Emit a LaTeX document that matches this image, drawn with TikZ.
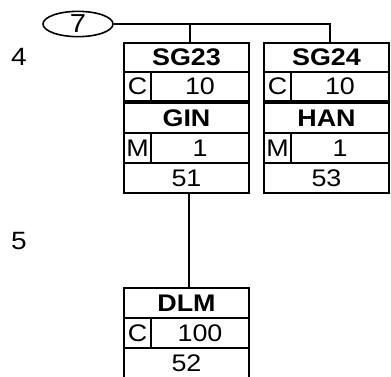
\documentclass[tikz,border=0pt]{standalone}
\usepackage{fontspec}
\setmainfont{Liberation Sans}[FakeStretch=1.12]
\usetikzlibrary{shapes.geometric,positioning}

\begin{document}
\begin{tikzpicture}[x=1pt, y=-1pt,
    row/.style={draw, line width=1.9pt, outer sep=0pt, minimum width=125pt, minimum height=#1, inner sep=0pt, font=\fontsize{24}{24}\selectfont},
    row/.default=29pt,
    head/.style={row=#1, font=\fontsize{24}{24}\selectfont\bfseries},
    head/.default=29pt,
    tag/.style={row=#1, minimum width=27pt},
    tag/.default=29pt,
    val/.style={row=#1, minimum width=98pt},
    val/.default=29pt,
    level/.style={font=\fontsize{25}{25}\selectfont},
    link/.style={line width=1.9pt}
]
    \useasboundingbox (0,0) rectangle (391,376);

    % level numbers
    \node[level] (lvl4) at (19,57) {4};
    \node[level] (lvl5) at (19,241) {5};

    \node[ellipse, draw, line width=1.6pt, minimum width=70pt, minimum height=20pt, inner sep=0pt, font=\fontsize{26}{26}\selectfont] (seven) at (78,24) {7};

    % left column
    \node[head, anchor=north west] (sg23) at (124,43) {SG23};
    \node[tag, below right=0pt and 0pt of sg23.south west] (c23) {C};
    \node[val, right=0pt of c23] (v23) {10};
    \node[head=30pt, anchor=north west] (gin) at (124,103) {GIN};
    \node[tag=30pt, below right=0pt and 0pt of gin.south west] (mgin) {M};
    \node[val=30pt, right=0pt of mgin] (vgin) {1};
    \node[row=30pt, below right=0pt and 0pt of mgin.south west] (n51) {51};

    % right column
    \node[head, anchor=north west] (sg24) at (264,43) {SG24};
    \node[tag, below right=0pt and 0pt of sg24.south west] (c24) {C};
    \node[val, right=0pt of c24] (v24) {10};
    \node[head=30pt, anchor=north west] (han) at (264,103) {HAN};
    \node[tag=30pt, below right=0pt and 0pt of han.south west] (mhan) {M};
    \node[val=30pt, right=0pt of mhan] (vhan) {1};
    \node[row=30pt, below right=0pt and 0pt of mhan.south west] (n53) {53};

    % lower level
    \node[head=30pt, anchor=north west] (dlm) at (124,288) {DLM};
    \node[tag=30pt, below right=0pt and 0pt of dlm.south west] (cdlm) {C};
    \node[val=30pt, right=0pt of cdlm] (vdlm) {100};
    \node[row=30pt, below right=0pt and 0pt of cdlm.south west] (n52) {52};

    % links
    \draw[link] (seven.east) -| ([xshift=3.5pt]sg24.north);
    \draw[link] ([xshift=3.5pt]sg23.north) -- ([xshift=3.5pt]sg23.north |- seven.east);
    \draw[link] ([xshift=2.5pt]n51.south) -- ([xshift=2.5pt]dlm.north);
\end{tikzpicture}
\end{document}
